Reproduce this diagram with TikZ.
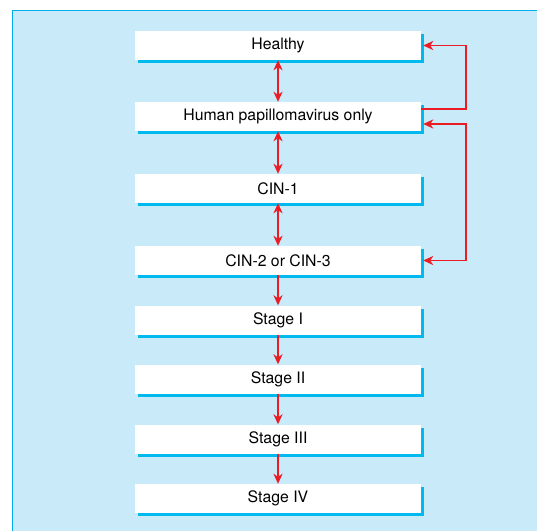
\documentclass[tikz,border=0pt]{standalone}
\usepackage{fontspec}
\setmainfont{TeX Gyre Heros}
\usetikzlibrary{arrows.meta,shadows}
\definecolor{panel}{HTML}{C8EAF9}
\definecolor{panelborder}{HTML}{00AEEF}
\definecolor{shadowc}{HTML}{00B9EE}
\definecolor{arrred}{HTML}{EC1C24}
\tikzset{
  box/.style={fill=white, minimum width=286pt, minimum height=29pt, inner sep=0pt,
    font=\fontsize{15.8}{18}\selectfont,
    general shadow={fill=shadowc, shadow xshift=3pt, shadow yshift=-3pt}},
  conn/.style={draw=arrred, line width=1.7pt},
  tipd/.style={-{Stealth[length=10pt,width=9pt,inset=3pt]}},
  tipb/.style={{Stealth[length=10pt,width=9pt,inset=3pt]}-{Stealth[length=10pt,width=9pt,inset=3pt]}}
}
\begin{document}
\begin{tikzpicture}[x=1pt,y=-1pt]
\useasboundingbox (0,0) rectangle (537,530);
\clip (0,0) rectangle (537,530);
\fill[white] (0,0) rectangle (537,530);
\filldraw[fill=panel, draw=panelborder, line width=1pt] (12.5,10.5) rectangle (560,560);
\node[box] (healthy) at (278,45.5) {Healthy};
\node[box] (hpv) at (278,116.5) {Human papillomavirus only};
\node[box] (cin1) at (278,188.5) {CIN-1};
\node[box] (cin2) at (278,260.5) {CIN-2 or CIN-3};
\node[box] (s1) at (278,320) {Stage I};
\node[box] (s2) at (278,379) {Stage II};
\node[box] (s3) at (278,439) {Stage III};
\node[box] (s4) at (278,498.5) {Stage IV};
\draw[conn,tipb] (healthy.south) -- (hpv.north);
\draw[conn,tipb] (hpv.south) -- (cin1.north);
\draw[conn,tipb] (cin1.south) -- (cin2.north);
\draw[conn,tipd] (cin2.south) -- (s1.north);
\draw[conn,tipd] (s1.south) -- (s2.north);
\draw[conn,tipd] (s2.south) -- (s3.north);
\draw[conn,tipd] (s3.south) -- (s4.north);
\draw[conn,tipd] ([yshift=7.5pt]hpv.east) -- ++(45,0) |- ([xshift=2pt]healthy.east);
\draw[conn,tipb] ([xshift=2pt,yshift=-7.5pt]hpv.east) -- ++(43,0) |- ([xshift=2pt]cin2.east);
\end{tikzpicture}
\end{document}
